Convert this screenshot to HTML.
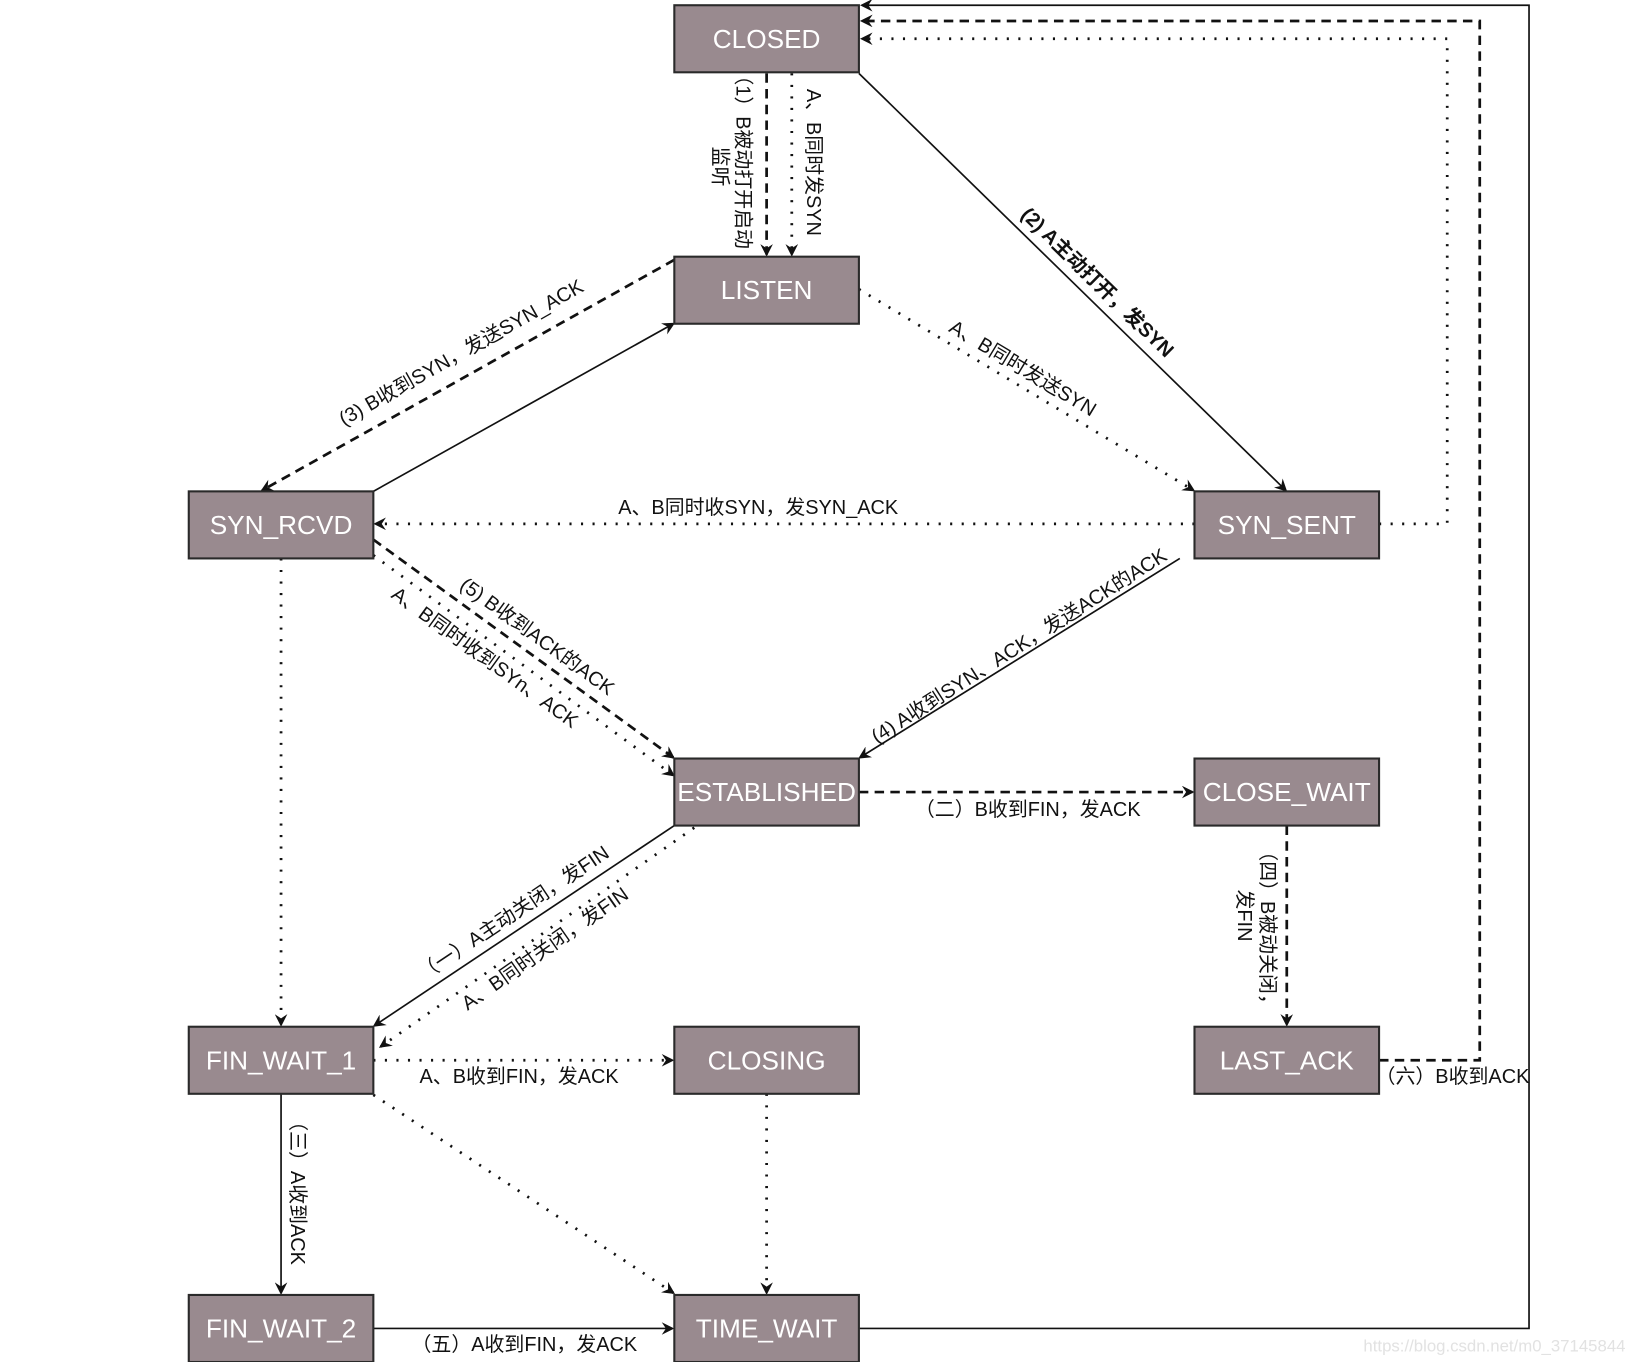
<!DOCTYPE html>
<html><head><meta charset="utf-8"><style>
html,body{margin:0;padding:0;background:#fff;}
svg{display:block}
text{font-family:"Liberation Sans","Noto Sans CJK SC",sans-serif;}
.b{fill:#998a8f;stroke:#2a2a2a;stroke-width:2}
.bt{fill:#fff;font-size:25px;text-anchor:middle;dominant-baseline:central}
.l{fill:#111;font-size:19px;text-anchor:middle;dominant-baseline:central}
.s{stroke:#111;stroke-width:1.6;fill:none}
.d{stroke:#111;stroke-width:2.6;fill:none;stroke-dasharray:9 6}
.o{stroke:#111;stroke-width:2.6;fill:none;stroke-dasharray:2 9}
</style></head><body>
<svg width="1636" height="1362" viewBox="0 0 1560 1300" preserveAspectRatio="none" xmlns="http://www.w3.org/2000/svg">
<defs><marker id="a" markerWidth="12" markerHeight="12" refX="10" refY="6" orient="auto" markerUnits="userSpaceOnUse"><path d="M0,0 L12,6 L0,12 L4,6 Z" fill="#111"/></marker></defs>

<line class="d" x1="731" y1="70" x2="731" y2="243" marker-end="url(#a)"/>
<line class="o" x1="755" y1="70" x2="755" y2="243" marker-end="url(#a)"/>
<line class="s" x1="819" y1="70" x2="1226" y2="468" marker-end="url(#a)"/>
<line class="d" x1="643" y1="248" x2="250" y2="468" marker-end="url(#a)"/>
<line class="s" x1="356" y1="469" x2="642" y2="309" marker-end="url(#a)"/>
<line class="o" x1="819" y1="276" x2="1138" y2="468" marker-end="url(#a)"/>
<line class="o" x1="1139" y1="500" x2="358" y2="500" marker-end="url(#a)"/>
<polyline class="o" points="1315,500 1380,500 1380,37 822,37" marker-end="url(#a)"/>
<polyline class="d" points="1315,1012 1411,1012 1411,20 822,20" marker-end="url(#a)"/>
<polyline class="s" points="819,1268 1458,1268 1458,5 822,5" marker-end="url(#a)"/>
<line class="s" x1="1125" y1="533" x2="820" y2="723" marker-end="url(#a)"/>
<line class="d" x1="356" y1="515" x2="642" y2="723" marker-end="url(#a)"/>
<line class="o" x1="356" y1="530" x2="642" y2="740" marker-end="url(#a)"/>
<line class="o" x1="268" y1="533" x2="268" y2="978" marker-end="url(#a)"/>
<line class="d" x1="819" y1="756" x2="1137" y2="756" marker-end="url(#a)"/>
<line class="d" x1="1227" y1="788" x2="1227" y2="978" marker-end="url(#a)"/>
<line class="s" x1="643" y1="788" x2="357" y2="979" marker-end="url(#a)"/>
<line class="o" x1="662" y1="790" x2="363" y2="999" marker-end="url(#a)"/>
<line class="o" x1="356" y1="1012" x2="641" y2="1012" marker-end="url(#a)"/>
<line class="o" x1="356" y1="1045" x2="642" y2="1234" marker-end="url(#a)"/>
<line class="o" x1="731" y1="1044" x2="731" y2="1234" marker-end="url(#a)"/>
<line class="s" x1="268" y1="1044" x2="268" y2="1234" marker-end="url(#a)"/>
<line class="s" x1="356" y1="1268" x2="641" y2="1268" marker-end="url(#a)"/>

<text class="l" transform="translate(708,150) rotate(90)">（1）B被动打开启动</text>
<text class="l" transform="translate(686,140) rotate(90)" style="text-anchor:start">监听</text>
<text class="l" transform="translate(775,155) rotate(90)">A、B同时发SYN</text>
<text class="l" style="font-weight:bold" transform="translate(1046,270) rotate(44.4)">(2) A主动打开，发SYN</text>
<text class="l" transform="translate(440,337) rotate(-29.4)">(3) B收到SYN，发送SYN_ACK</text>
<text class="l" transform="translate(975,352) rotate(31)">A、B同时发送SYN</text>
<text class="l" x="723" y="485">A、B同时收SYN，发SYN_ACK</text>
<text class="l" transform="translate(972,617) rotate(-32.4)">(4) A收到SYN、ACK，发送ACK的ACK</text>
<text class="l" transform="translate(512,608) rotate(36)">(5) B收到ACK的ACK</text>
<text class="l" transform="translate(462,628) rotate(36)">A、B同时收到SYn、ACK</text>
<text class="l" x="980" y="773">（二）B收到FIN，发ACK</text>
<text class="l" transform="translate(1208,803) rotate(90)" style="text-anchor:start">（四）B被动关闭，</text>
<text class="l" transform="translate(1186,849) rotate(90)" style="text-anchor:start">发FIN</text>
<text class="l" transform="translate(490,872) rotate(-33.8)">（一）A主动关闭，发FIN</text>
<text class="l" transform="translate(520,906) rotate(-35)">A、B同时关闭，发FIN</text>
<text class="l" x="495" y="1028">A、B收到FIN，发ACK</text>
<text class="l" x="1385" y="1028">（六）B收到ACK</text>
<text class="l" transform="translate(283,1134) rotate(90)">（三）A收到ACK</text>
<text class="l" x="500" y="1284">（五）A收到FIN，发ACK</text>
<text x="1550" y="1290" style="font-size:16px;fill:#e2e2e2;text-anchor:end">https://blog.csdn.net/m0_37145844</text>

<rect class="b" x="643" y="5" width="176" height="64"/><text class="bt" x="731" y="37">CLOSED</text>
<rect class="b" x="643" y="245" width="176" height="64"/><text class="bt" x="731" y="277">LISTEN</text>
<rect class="b" x="180" y="469" width="176" height="64"/><text class="bt" x="268" y="501">SYN_RCVD</text>
<rect class="b" x="1139" y="469" width="176" height="64"/><text class="bt" x="1227" y="501">SYN_SENT</text>
<rect class="b" x="643" y="724" width="176" height="64"/><text class="bt" x="731" y="756">ESTABLISHED</text>
<rect class="b" x="1139" y="724" width="176" height="64"/><text class="bt" x="1227" y="756">CLOSE_WAIT</text>
<rect class="b" x="180" y="980" width="176" height="64"/><text class="bt" x="268" y="1012">FIN_WAIT_1</text>
<rect class="b" x="643" y="980" width="176" height="64"/><text class="bt" x="731" y="1012">CLOSING</text>
<rect class="b" x="1139" y="980" width="176" height="64"/><text class="bt" x="1227" y="1012">LAST_ACK</text>
<rect class="b" x="180" y="1236" width="176" height="64"/><text class="bt" x="268" y="1268">FIN_WAIT_2</text>
<rect class="b" x="643" y="1236" width="176" height="64"/><text class="bt" x="731" y="1268">TIME_WAIT</text>
</svg>
</body></html>
